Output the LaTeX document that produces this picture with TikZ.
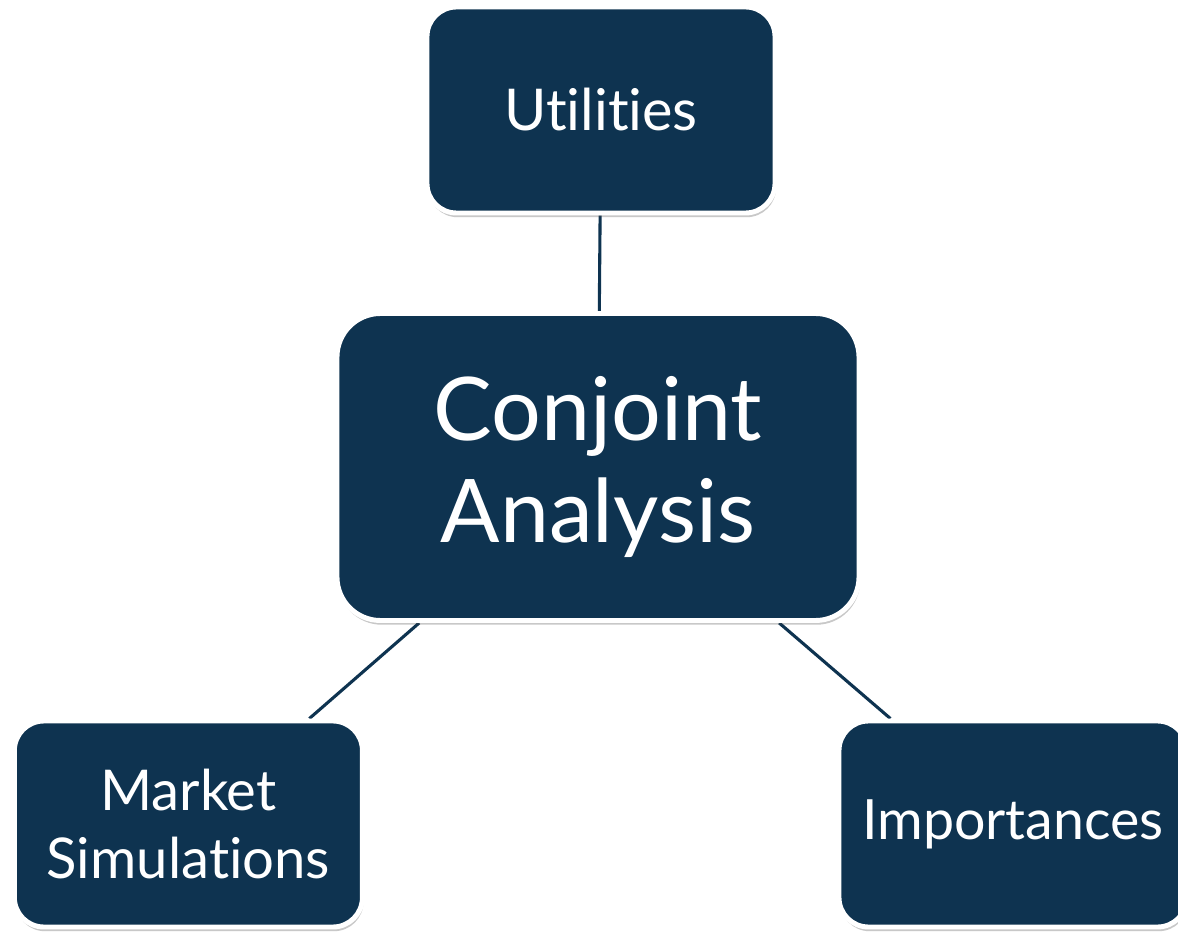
\documentclass[tikz,border=0pt]{standalone}
\usepackage{fontspec}
\setmainfont{Lato}[Ligatures=CommonOff]
\usetikzlibrary{positioning,shadows,backgrounds}
\definecolor{navy}{HTML}{0E3350}

\begin{document}
\begin{tikzpicture}[on grid,
    box/.style={rectangle, rounded corners=21pt, fill=navy, draw=white, line width=3.5pt,
        text=white, align=center, inner sep=0pt,
        drop shadow={shadow xshift=0.8pt, shadow yshift=-3pt, opacity=0.3, fill=black!70}},
    small/.style={box, minimum width=8.7cm, minimum height=5.15cm},
    big/.style={box, rounded corners=31pt, minimum width=13.05cm, minimum height=7.675cm,
        font=\fontsize{62.5}{73}\selectfont},
    link/.style={draw=navy, line width=2.2pt}]
        \path[use as bounding box] (-14.95,-11.625) rectangle (14.5,11.675);
        \node[big] (conj) {Conjoint\\Analysis};
        \node[small, font=\fontsize{41}{45}\selectfont] (util) [above=8.925cm of conj, xshift=0.075cm] {Utilities};
        \node[small, font=\fontsize{40}{48.4}\selectfont] (market) [below left=8.925cm and 10.24cm of conj] {Market\\Simulations};
        \node[small, font=\fontsize{39.5}{48.4}\selectfont] (imp) [below right=8.925cm and 10.375cm of conj] {Importances};
        \begin{scope}[on background layer]
        \fill[white] (-14.95,-11.625) rectangle (14.5,11.675);
        \path[link]
        (util) -- (conj)
        (conj) -- (market)
        (conj) -- (imp)
        ;
        \end{scope}
    \end{tikzpicture}
\end{document}
